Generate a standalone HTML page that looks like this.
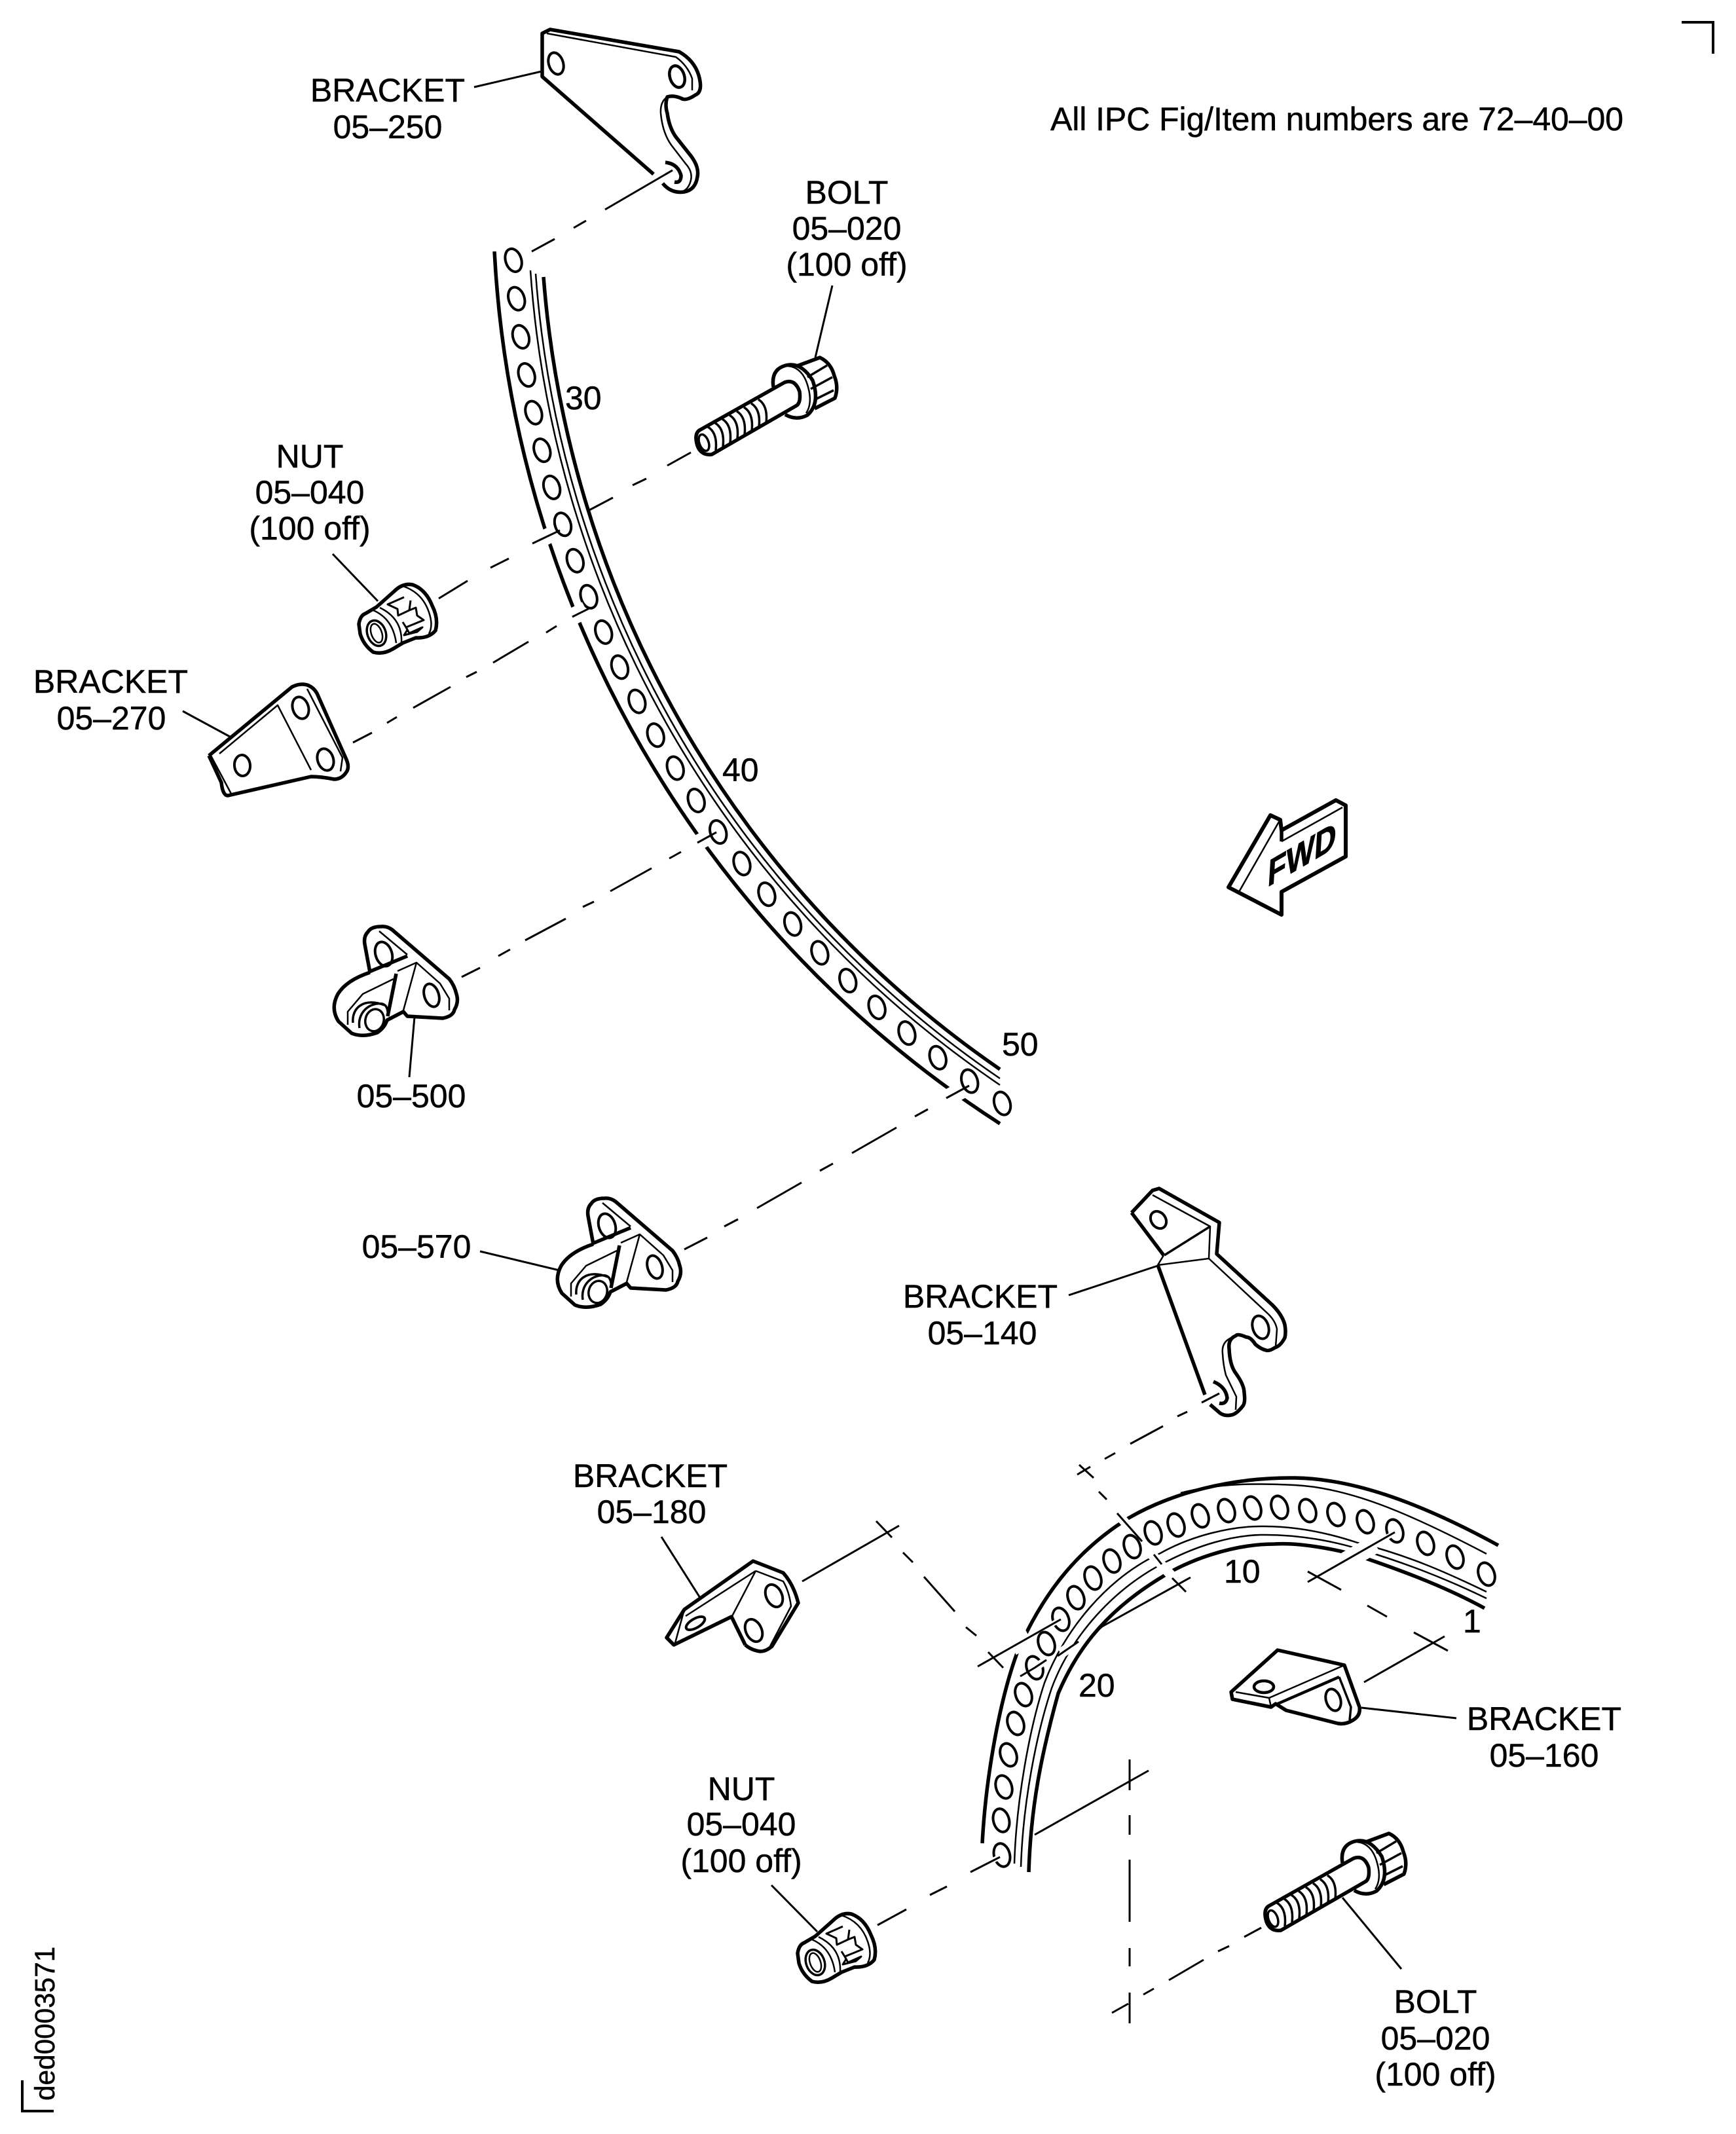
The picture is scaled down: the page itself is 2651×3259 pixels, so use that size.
<!DOCTYPE html>
<html>
<head>
<meta charset="utf-8">
<style>
html,body{margin:0;padding:0;background:#fff;}
svg{display:block;}
text{font-family:"Liberation Sans",sans-serif;font-size:50px;fill:#000;stroke:#000;stroke-width:0.5;}
.c{text-anchor:middle;}
.k{fill:none;stroke:#000;stroke-width:5.5;stroke-linejoin:round;stroke-linecap:butt;}
.m{fill:none;stroke:#000;stroke-width:3.5;stroke-linejoin:round;}
.t{fill:none;stroke:#000;stroke-width:2.5;stroke-linejoin:round;}
.d{fill:none;stroke:#000;stroke-width:3;}
.h{fill:none;stroke:#000;stroke-width:4;}
.w{fill:none;stroke:#fff;}
</style>
</head>
<body>
<svg width="2651" height="3259" viewBox="0 0 2651 3259" xmlns="http://www.w3.org/2000/svg">
<rect width="2651" height="3259" fill="#fff"/>
<defs>
<g id="nut">
<path class="k" d="M1218 2983Q1220 2970 1228 2967L1245 2957L1272 2933Q1285 2920 1300 2923Q1320 2930 1330 2955Q1340 2975 1335 2993Q1325 3005 1305 3004L1285 3012L1270 3021Q1255 3030 1240 3026Q1225 3015 1220 2998Z"/>
<ellipse class="m" cx="1245" cy="2997" rx="14" ry="20" transform="rotate(-20 1245 2997)"/>
<ellipse class="t" cx="1245" cy="2997" rx="8" ry="15" transform="rotate(-20 1245 2997)"/>
<path class="t" d="M1240 2962Q1270 2975 1275 3012M1250 2958Q1285 2975 1283 3012M1285 2925Q1315 2935 1325 2965Q1332 2985 1325 2998"/>
<path class="t" style="stroke-width:3" d="M1287 2942L1262 2953L1277 2960L1278 2970L1295 2962L1297 2947M1295 2962L1305 2958L1307 2970L1317 2977L1290 2988L1285 2980M1290 2988L1295 2997L1315 2988L1307 2995L1287 3000L1292 2992"/>
</g>
<g id="bolt">
<path class="k" d="M2086 2813L2121 2800Q2138 2808 2143 2828Q2150 2845 2144 2862L2113 2878"/>
<path class="k" d="M2050 2845Q2046 2818 2069 2812Q2092 2806 2110 2835Q2122 2870 2102 2888Q2085 2897 2068 2887"/>
<path class="t" d="M2072 2813Q2095 2815 2103 2845Q2110 2870 2100 2885"/>
<path class="m" d="M2102 2830L2132 2812M2107 2848L2140 2830M2112 2865L2142 2850"/>
<path class="k" d="M1939 2910L2067 2838Q2083 2832 2090 2852Q2092 2868 2086 2873L1956 2948Q1940 2950 1934 2935Q1928 2915 1939 2910Z" style="fill:#fff"/>
<ellipse class="m" cx="1944" cy="2930" rx="7" ry="13" transform="rotate(-20 1944 2930)"/>
<path class="m" d="M1950 2906q15 9 12 36m-1 -42q15 9 12 36m-1 -42q15 9 12 36m-1 -42q15 9 12 36m-1 -42q15 9 12 36m-1 -42q15 9 12 36m-1 -42q15 9 12 36m-1 -42q15 9 12 36"/>
</g>
<g id="lug">
<path class="k" d="M906 1900Q870 1912 857 1933Q845 1955 858 1975L878 1993Q895 2000 917 1992Q928 1985 932 1973L957 1960L963 1967L1017 1970Q1033 1967 1035 1957Q1042 1945 1038 1933Q1035 1920 1027 1910L940 1835Q932 1829 923 1830Q908 1830 903 1838Q896 1845 898 1857L906 1900"/>
<path class="k" d="M905 1899L963 1875"/>
<path class="t" d="M920 1837L963 1873M948 1898L977 1885L957 1958M977 1885L1013 1917L1027 1940L1027 1958M942 1910L895 1933L872 1960L872 1980"/>
<path class="k" d="M946 1902L933 1967"/>
<ellipse class="h" cx="927" cy="1872" rx="12.5" ry="19" transform="rotate(-18 927 1872)"/>
<ellipse class="h" cx="1000" cy="1935" rx="11" ry="18" transform="rotate(-18 1000 1935)"/>
<path class="m" d="M880 1977C878 1955 895 1938 928 1950M890 1985C886 1962 905 1945 925 1948Q932 1950 933 1960"/>
<ellipse class="m" cx="913" cy="1973" rx="14" ry="17" transform="rotate(15 913 1973)"/>
</g>
<ellipse id="hu" class="h" rx="12" ry="18"/>
</defs>

<!-- corners -->
<path d="M2568 34H2616V82" fill="none" stroke="#000" stroke-width="4"/>
<path d="M34 3177V3224H82" fill="none" stroke="#000" stroke-width="4"/>
<text transform="translate(83 3208) rotate(-90)" style="font-size:42.3px">ded0003571</text>

<!-- upper strip -->
<path class="k" d="M755 384A1690 1690 0 0 0 1527 1716"/>
<path class="k" d="M830 423A1620 1620 0 0 0 1527 1633"/>
<path class="t" d="M818 418A1631 1631 0 0 0 1527 1647"/>
<path class="t" d="M810 413A1639 1639 0 0 0 1527 1657"/>
<g transform="translate(2443 296)">
<use href="#hu" transform="rotate(-3.5) translate(-1662 0) rotate(-14.5)"/>
<use href="#hu" transform="rotate(-5.53) translate(-1662 0) rotate(-12.47)"/>
<use href="#hu" transform="rotate(-7.55) translate(-1662 0) rotate(-10.45)"/>
<use href="#hu" transform="rotate(-9.58) translate(-1662 0) rotate(-8.42)"/>
<use href="#hu" transform="rotate(-11.6) translate(-1662 0) rotate(-6.4)"/>
<use href="#hu" transform="rotate(-13.63) translate(-1662 0) rotate(-4.37)"/>
<use href="#hu" transform="rotate(-15.65) translate(-1662 0) rotate(-2.35)"/>
<use href="#hu" transform="rotate(-17.68) translate(-1662 0) rotate(-0.32)"/>
<use href="#hu" transform="rotate(-19.7) translate(-1662 0) rotate(1.7)"/>
<use href="#hu" transform="rotate(-21.73) translate(-1662 0) rotate(3.73)"/>
<use href="#hu" transform="rotate(-23.75) translate(-1662 0) rotate(5.75)"/>
<use href="#hu" transform="rotate(-25.78) translate(-1662 0) rotate(7.78)"/>
<use href="#hu" transform="rotate(-27.8) translate(-1662 0) rotate(9.8)"/>
<use href="#hu" transform="rotate(-29.83) translate(-1662 0) rotate(11.83)"/>
<use href="#hu" transform="rotate(-31.85) translate(-1662 0) rotate(13.85)"/>
<use href="#hu" transform="rotate(-33.88) translate(-1662 0) rotate(15.88)"/>
<use href="#hu" transform="rotate(-35.9) translate(-1662 0) rotate(17.9)"/>
<use href="#hu" transform="rotate(-37.98) translate(-1662 0) rotate(19.98)"/>
<use href="#hu" transform="rotate(-40.06) translate(-1662 0) rotate(22.06)"/>
<use href="#hu" transform="rotate(-42.14) translate(-1662 0) rotate(24.14)"/>
<use href="#hu" transform="rotate(-44.22) translate(-1662 0) rotate(26.22)"/>
<use href="#hu" transform="rotate(-46.3) translate(-1662 0) rotate(28.3)"/>
<use href="#hu" transform="rotate(-48.38) translate(-1662 0) rotate(30.38)"/>
<use href="#hu" transform="rotate(-50.46) translate(-1662 0) rotate(32.46)"/>
<use href="#hu" transform="rotate(-52.54) translate(-1662 0) rotate(34.54)"/>
<use href="#hu" transform="rotate(-54.62) translate(-1662 0) rotate(36.62)"/>
<use href="#hu" transform="rotate(-56.7) translate(-1662 0) rotate(38.7)"/>
</g>
<g class="w">
<path stroke-width="24" d="M822 826L848 813"/>
<path stroke-width="26" d="M872 943L895 931"/>
<path stroke-width="24" d="M1050 1296L1080 1279"/>
<path stroke-width="26" d="M1443 1679L1470 1664"/>
</g>

<!-- lower strip -->
<path class="k" d="M1500 2815C1505 2720 1525 2600 1554 2522C1590 2440 1640 2370 1724 2318C1790 2280 1880 2256 1977 2257C2060 2258 2160 2290 2288 2360"/>
<path class="k" d="M1571 2859C1574 2760 1590 2680 1616 2586C1640 2530 1680 2465 1775 2408C1810 2385 1880 2358 1946 2358C1990 2355 2060 2370 2086 2380C2150 2402 2210 2425 2267 2456"/>
<path class="t" d="M1549 2846C1552 2750 1572 2640 1595 2570C1625 2490 1690 2410 1772 2372C1820 2345 1880 2331 1925 2331C1985 2330 2040 2345 2073 2356C2150 2375 2210 2402 2270 2431"/>
<path class="t" d="M1559 2851C1562 2755 1582 2650 1606 2578C1635 2500 1700 2425 1783 2384C1830 2360 1880 2345 1925 2344C1985 2343 2040 2355 2073 2365C2150 2388 2210 2412 2270 2441"/>
<path class="t" d="M1803 2280C1860 2265 1920 2265 1977 2268C2060 2272 2150 2310 2270 2373"/>
<g>
<use href="#hu" x="1530" y="2833" transform="rotate(-15 1530 2833)"/>
<use href="#hu" x="1529" y="2780" transform="rotate(-15 1529 2780)"/>
<use href="#hu" x="1533" y="2729" transform="rotate(-18 1533 2729)"/>
<use href="#hu" x="1540" y="2680" transform="rotate(-20 1540 2680)"/>
<use href="#hu" x="1551" y="2632" transform="rotate(-20 1551 2632)"/>
<use href="#hu" x="1563" y="2588" transform="rotate(-20 1563 2588)"/>
<use href="#hu" x="1580" y="2547" transform="rotate(-20 1580 2547)"/>
<use href="#hu" x="1598" y="2510" transform="rotate(-20 1598 2510)"/>
<use href="#hu" x="1620" y="2473" transform="rotate(-20 1620 2473)"/>
<use href="#hu" x="1643" y="2440" transform="rotate(-20 1643 2440)"/>
<use href="#hu" x="1669" y="2410" transform="rotate(-20 1669 2410)"/>
<use href="#hu" x="1698" y="2384" transform="rotate(-20 1698 2384)"/>
<use href="#hu" x="1729" y="2362" transform="rotate(-20 1729 2362)"/>
<use href="#hu" x="1761" y="2341" transform="rotate(-20 1761 2341)"/>
<use href="#hu" x="1796" y="2329" transform="rotate(-20 1796 2329)"/>
<use href="#hu" x="1833" y="2315" transform="rotate(-20 1833 2315)"/>
<use href="#hu" x="1873" y="2307" transform="rotate(-20 1873 2307)"/>
<use href="#hu" x="1913" y="2303" transform="rotate(-20 1913 2303)"/>
<use href="#hu" x="1954" y="2302" transform="rotate(-20 1954 2302)"/>
<use href="#hu" x="1997" y="2307" transform="rotate(-20 1997 2307)"/>
<use href="#hu" x="2040" y="2313" transform="rotate(-20 2040 2313)"/>
<use href="#hu" x="2085" y="2324" transform="rotate(-20 2085 2324)"/>
<use href="#hu" x="2130" y="2338" transform="rotate(-20 2130 2338)"/>
<use href="#hu" x="2177" y="2357" transform="rotate(-20 2177 2357)"/>
<use href="#hu" x="2222" y="2378" transform="rotate(-20 2222 2378)"/>
<use href="#hu" x="2270" y="2404" transform="rotate(-20 2270 2404)"/>
</g>
<g class="w">
<path stroke-width="14" d="M1708 2314L1727 2335"/>
<path stroke-width="15" d="M1755 2370L1800 2418"/>
<path stroke-width="28" d="M2100 2358L2050 2387"/>
<path stroke-width="28" d="M1545 2515L1572 2500"/>
<path stroke-width="16" d="M1640 2511L1620 2525"/>
<path stroke-width="12" d="M1596 2537L1584 2544"/>
<path stroke-width="8" d="M2130 2341L2110 2352"/>
<path stroke-width="8" d="M1620 2473L1600 2484"/>
<path stroke-width="8" d="M1527 2836L1512 2843"/>
</g>

<!-- connectors -->
<path class="d" d="M1027 260L924 320M876 348L895 337M812 384L847 365"/>
<path class="d" d="M1055 691L1019 711M987 731L966 741M936 760L898 780M813 830L855 810"/>
<path class="d" d="M670 914L714 887M749 867L777 853"/>
<path class="d" d="M539 1134L568 1119M591 1104L606 1095M631 1081L688 1049M712 1034L728 1026M753 1012L807 980M834 966L850 956M874 942L902 928"/>
<path class="d" d="M705 1492L733 1478M761 1460L779 1450M802 1436L864 1403M890 1385L907 1377M932 1361L995 1326M1022 1311L1040 1301M1065 1287L1094 1271"/>
<path class="d" d="M1045 1908L1080 1890M1106 1873L1127 1862M1156 1845L1224 1806M1252 1788L1272 1777M1301 1761L1369 1722M1397 1705L1417 1694M1445 1677L1480 1658"/>
<path class="d" d="M1835 2142L1862 2128M1798 2163L1813 2156M1726 2205L1776 2178M1687 2228L1703 2219M1645 2252L1665 2240M1648 2237L1670 2257M1678 2278L1690 2290M1706 2311L1744 2354M1762 2374L1774 2389M1790 2410L1811 2431M1818 2409L1683 2484L1665 2500M1647 2507L1615 2529M1598 2535L1580 2547M1558 2560L1580 2547"/>
<path class="d" d="M1225 2415L1373 2330M1338 2323L1362 2348M1379 2371L1394 2386M1411 2408L1458 2461M1475 2485L1491 2498M1509 2523L1532 2547M1493 2545L1620 2473"/>
<path class="d" d="M2130 2340L1997 2416M1997 2400L2048 2428M2088 2452L2118 2469M2159 2493L2211 2521M2083 2569L2206 2499"/>
<path class="d" d="M1580 2802L1754 2704M1725 2687V2734M1725 2772V2802M1725 2840V2935M1725 2975V3003M1725 3043V3090M1698 3074L1723 3060M1746 3046L1762 3037M1785 3024L1838 2993M1860 2980L1877 2972M1900 2958L1926 2944"/>
<path class="d" d="M1340 2940L1384 2916M1420 2894L1446 2881M1482 2859L1527 2836"/>

<!-- leaders -->
<path class="d" d="M724 133L827 109M1271 436L1245 546M508 846L577 918M279 1086L351 1125M633 1553L625 1645M733 1911L854 1940M1632 1978L1768 1933M1010 2347L1069 2440M2079 2608L2224 2624M1178 2879L1248 2950M2050 2898L2140 3007"/>

<!-- bracket 05-250 -->
<path class="k" d="M998 266L828 117V51L840 45L1037 79Q1060 92 1067 115Q1074 140 1062 145Q1047 155 1040 150Q1028 145 1019 148Q1015 160 1019 173Q1022 195 1032 209L1055 238Q1068 255 1065 270Q1062 290 1045 293Q1025 296 1012 280"/>
<path class="t" d="M835 51L1032 87Q1050 100 1057 120L1057 138M1019 148Q1008 155 1009 173Q1012 205 1027 224L1047 250Q1058 262 1055 275Q1052 288 1043 292"/>
<ellipse class="h" cx="849" cy="97" rx="11" ry="17" transform="rotate(-18 849 97)"/>
<ellipse class="h" cx="1034" cy="117" rx="11" ry="17" transform="rotate(-18 1034 117)" style="stroke-width:4.5"/>
<path class="k" d="M1016 248Q1035 250 1040 268Q1040 280 1030 278"/>

<!-- bolts and nuts -->
<use href="#bolt"/>
<use href="#bolt" transform="translate(-869 -2254)"/>
<use href="#nut"/>
<use href="#nut" transform="translate(-670 -2030)"/>

<!-- bracket 05-270 -->
<path class="k" d="M319 1154L446 1049Q458 1043 469 1046Q480 1050 485 1061L529 1160Q534 1172 529 1179Q522 1190 510 1190Q490 1186 475 1186L348 1215Q340 1215 338 1195L319 1154"/>
<path class="t" d="M335 1151L424 1077L475 1176M469 1052L523 1157L520 1178M322 1154L354 1214"/>
<ellipse class="h" cx="459" cy="1081" rx="12" ry="17" transform="rotate(-18 459 1081)"/>
<ellipse class="h" cx="497" cy="1160" rx="12" ry="17" transform="rotate(-18 497 1160)"/>
<ellipse class="h" cx="370" cy="1169" rx="12" ry="16" transform="rotate(-5 370 1169)"/>

<!-- lugs -->
<use href="#lug"/>
<use href="#lug" transform="translate(-341 -415)"/>

<!-- bracket 05-140 -->
<path class="k" d="M1728 1852L1760 1818L1770 1815L1862 1867L1858 1915L1943 1993Q1958 2008 1962 2023Q1964 2035 1962 2043Q1955 2056 1947 2058Q1938 2064 1933 2062Q1925 2060 1917 2053Q1910 2042 1903 2042Q1890 2036 1887 2040Q1875 2045 1877 2060Q1878 2085 1887 2097Q1900 2115 1900 2127Q1902 2142 1898 2147Q1888 2160 1880 2161Q1870 2163 1863 2158L1848 2145M1728 1852L1777 1917"/>
<path class="k" d="M1768 1932L1840 2130"/>
<path class="m" d="M1848 1873L1778 1917"/>
<path class="t" d="M1760 1825L1848 1873L1846 1922L1768 1932L1777 1917M1846 1922L1937 2007Q1948 2018 1950 2030L1948 2057M1880 2043Q1865 2050 1867 2067Q1868 2085 1872 2100L1888 2133L1887 2153"/>
<ellipse class="h" cx="1769" cy="1863" rx="11" ry="14" transform="rotate(-35 1769 1863)"/>
<ellipse class="h" cx="1925" cy="2027" rx="12" ry="18" transform="rotate(-18 1925 2027)"/>
<path class="k" d="M1853 2110Q1872 2118 1874 2135Q1872 2145 1862 2143"/>

<!-- bracket 05-180 -->
<path class="k" d="M1138 2512L1117 2469L1029 2512L1018 2501L1045 2458L1150 2384L1196 2402Q1212 2420 1219 2448L1179 2514Q1170 2522 1161 2522Q1147 2520 1138 2512"/>
<path class="t" d="M1154 2399L1047 2468M1154 2399L1118 2468M1154 2399L1196 2415Q1205 2430 1208 2453L1176 2514M1045 2458L1031 2509"/>
<ellipse class="h" cx="1182" cy="2437" rx="12" ry="18" transform="rotate(-25 1182 2437)"/>
<ellipse class="h" cx="1151" cy="2490" rx="12" ry="18" transform="rotate(-25 1151 2490)"/>
<ellipse class="h" cx="1062" cy="2479" rx="16" ry="7" transform="rotate(-30 1062 2479)"/>

<!-- bracket 05-160 -->
<path class="k" d="M1880 2584L1951 2520L2053 2543L2076 2607Q2078 2620 2066 2627Q2055 2634 2043 2632L1964 2612L1948 2602L1941 2607L1882 2595Z"/>
<path class="t" d="M1887 2584L1938 2593L2053 2543M1938 2593L1941 2607"/>
<path class="k" d="M1951 2602L2045 2561" style="stroke-width:4.5"/>
<path class="m" d="M2045 2561L2063 2607L2061 2627"/>
<ellipse class="h" cx="1930" cy="2576" rx="15" ry="9" style="stroke-width:4.5"/>
<ellipse class="h" cx="2036" cy="2596" rx="11" ry="17" transform="rotate(-18 2036 2596)"/>

<!-- FWD arrow -->
<path class="k" d="M1876 1355L1940 1245L1955 1252L1957 1268L2040 1222L2055 1230V1308L1957 1362V1397Z" style="stroke-width:6"/>
<path class="t" d="M1892 1362L1953 1255M2050 1233L1957 1285"/>
<path class="k" d="M1957 1268V1285"/>
<text transform="matrix(0.79 -0.46 -0.06 1 1935 1355)" style="font-weight:bold;font-size:58px;stroke-width:1">FWD</text>

<!-- labels -->
<text x="1604" y="199" textLength="875" lengthAdjust="spacing">All IPC Fig/Item numbers are 72–40–00</text>
<text class="c" x="592" y="155">BRACKET</text>
<text class="c" x="592" y="211">05–250</text>
<text class="c" x="1293" y="311">BOLT</text>
<text class="c" x="1293" y="366">05–020</text>
<text class="c" x="1293" y="421">(100 off)</text>
<text x="863" y="625">30</text>
<text class="c" x="473" y="714">NUT</text>
<text class="c" x="473" y="769">05–040</text>
<text class="c" x="473" y="824">(100 off)</text>
<text class="c" x="169" y="1058">BRACKET</text>
<text class="c" x="170" y="1114">05–270</text>
<text x="1103" y="1193">40</text>
<text x="1530" y="1612">50</text>
<text class="c" x="628" y="1691">05–500</text>
<text class="c" x="636" y="1921">05–570</text>
<text class="c" x="1497" y="1997">BRACKET</text>
<text class="c" x="1500" y="2053">05–140</text>
<text class="c" x="993" y="2271">BRACKET</text>
<text class="c" x="995" y="2326">05–180</text>
<text x="1869" y="2417">10</text>
<text x="2234" y="2493">1</text>
<text x="1647" y="2591">20</text>
<text class="c" x="2358" y="2642">BRACKET</text>
<text class="c" x="2358" y="2698">05–160</text>
<text class="c" x="1132" y="2749">NUT</text>
<text class="c" x="1132" y="2803">05–040</text>
<text class="c" x="1132" y="2859">(100 off)</text>
<text class="c" x="2192" y="3074">BOLT</text>
<text class="c" x="2192" y="3130">05–020</text>
<text class="c" x="2192" y="3185">(100 off)</text>
</svg>
</body>
</html>
